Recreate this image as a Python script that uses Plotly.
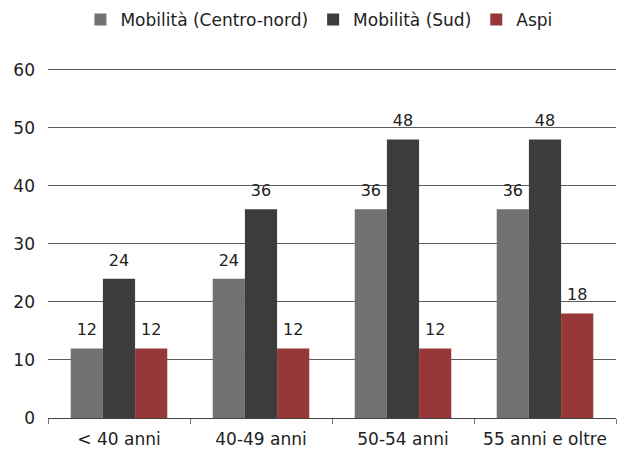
import plotly.graph_objects as go

categories = ["< 40 anni", "40-49 anni", "50-54 anni", "55 anni e oltre"]
centro_nord = [12, 24, 36, 36]
sud = [24, 36, 48, 48]
aspi = [12, 12, 12, 18]
series_names = ["Mobilità (Centro-nord)", "Mobilità (Sud)", "Aspi"]
y_ticks = [0, 10, 20, 30, 40, 50, 60]

colors = ["#727272", "#3c3c3c", "#973737"]
FONT = "DejaVu Sans"

fig = go.Figure()
all_series = [centro_nord, sud, aspi]
for name, vals, col in zip(series_names, all_series, colors):
    fig.add_trace(go.Bar(
        x=categories, y=vals, name=name,
        marker=dict(color=col, line=dict(width=0)),
        cliponaxis=False,
    ))
for name, vals in zip(series_names, all_series):
    fig.add_trace(go.Scatter(
        x=categories, y=vals, name=name, showlegend=False,
        mode="markers+text", marker=dict(size=13, color="rgba(0,0,0,0)"),
        text=[str(v) for v in vals], textposition="top center",
        textfont=dict(family=FONT, size=16, color="#222"),
        cliponaxis=False, hoverinfo="skip",
    ))

fig.update_layout(
    width=617, height=450,
    margin=dict(l=48, r=1, t=67, b=32),
    paper_bgcolor="white", plot_bgcolor="white",
    barmode="group", bargap=0.32, bargroupgap=0,
    scattermode="group", scattergap=0.32,
    font=dict(family=FONT, size=16, color="#222"),
    showlegend=True,
    legend=dict(orientation="h", x=0.477, xanchor="center", y=0.9556, yref="container",
                yanchor="middle", font=dict(family=FONT, size=17, color="#222"),
                itemwidth=30, tracegroupgap=0),
    xaxis=dict(showgrid=False, showline=True, linecolor="#444", linewidth=1,
               ticks="outside", ticklen=5, tickcolor="#777", tickson="boundaries",
               ticklabelstandoff=6,
               tickfont=dict(family=FONT, size=17, color="#222")),
    yaxis=dict(range=[0, 60.5], tickvals=y_ticks, showgrid=True, gridcolor="#5a5a5a", gridwidth=1,
               zeroline=False, showline=False, ticks="", ticklabelstandoff=12,
               tickfont=dict(family=FONT, size=17, color="#222")),
)

fig.write_html("out.html", config={"displayModeBar": False},
               post_script="document.body.style.margin='0';")
